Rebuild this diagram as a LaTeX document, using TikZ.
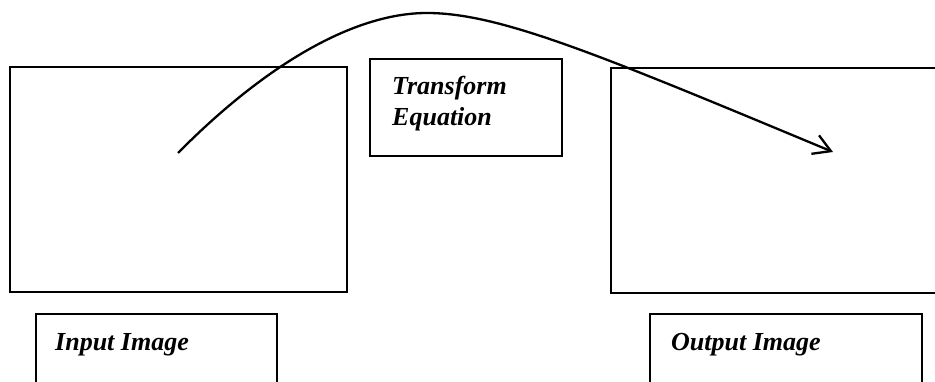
\documentclass[tikz,border=0pt]{standalone}
\usepackage{fontspec}
\setmainfont{Liberation Serif}
\usetikzlibrary{arrows.meta}
\begin{document}
\begin{tikzpicture}[x=1pt,y=-1pt,
  frame/.style={draw=black,line width=1.6pt,inner sep=0pt,outer sep=0pt,anchor=north west},
  lbl/.style={anchor=base west,inner sep=0pt,font=\fontsize{26}{31}\selectfont\bfseries\itshape},
  flow/.style={line width=2.3pt,-{Straight Barb[length=17pt,width=20pt]}}]
\useasboundingbox (0,0) rectangle (935,382);
\clip (0,0) rectangle (935,382);
% big image boxes
\node[frame,minimum width=337pt,minimum height=225pt] (inimg) at (10,67) {};
\node[frame,minimum width=340pt,minimum height=225pt] (outimg) at (611,68) {};
% transform box
\node[frame,minimum width=192pt,minimum height=97pt] (tbox) at (370,59) {};
\node[lbl] (t1) at (392,95) {Transform};
\node[lbl] (t2) at (392,126) {Equation};
% caption boxes
\node[frame,minimum width=241pt,minimum height=90pt] (inlbl) at (36,314) {};
\node[lbl] (intext) at (55,350) {Input Image};
\node[frame,minimum width=272pt,minimum height=90pt] (outlbl) at (650,314) {};
\node[lbl] (outtext) at (671,350) {Output Image};
% connector
\coordinate (cs) at (178,153);
\coordinate (cp) at (427,13);
\coordinate (ce) at (833,152);
\draw[flow] (cs) .. controls (260,70) and (350,13) .. (cp)
  .. controls (500,13) and (600,55) .. (ce);
\end{tikzpicture}
\end{document}
